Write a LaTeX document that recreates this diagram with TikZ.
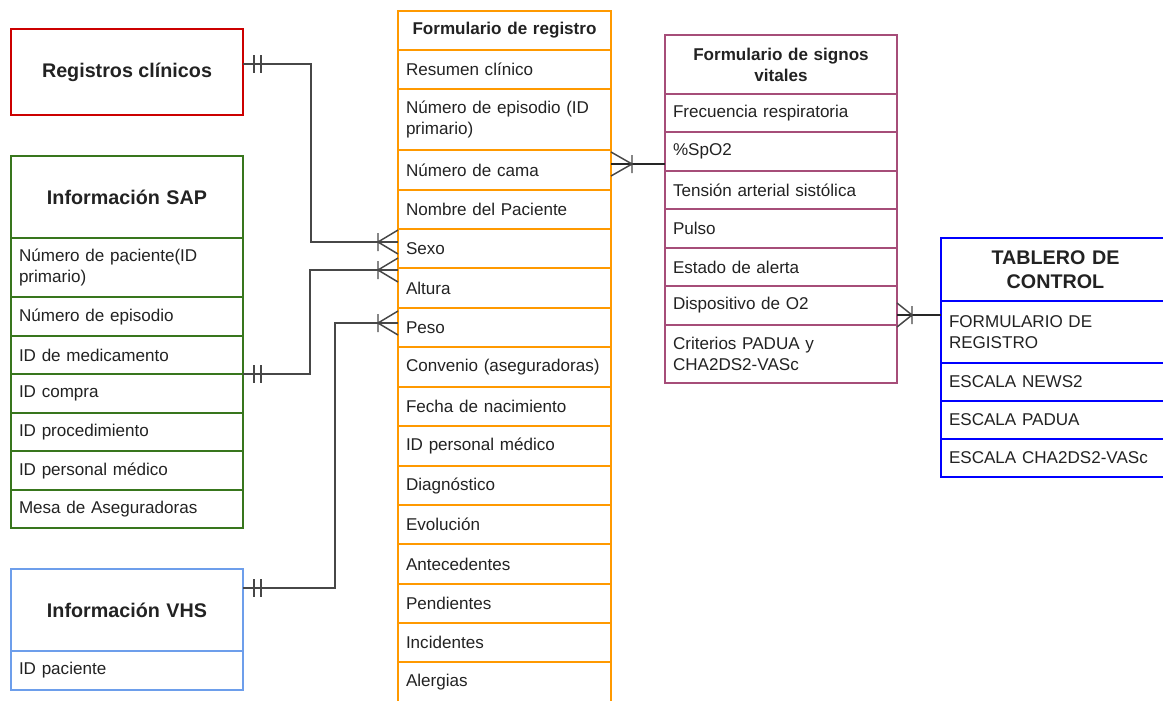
\documentclass[tikz,border=0pt]{standalone}
\usepackage{fontspec}
\setmainfont{Liberation Sans}
\definecolor{cred}{HTML}{CC0000}
\definecolor{cgreen}{HTML}{38761D}
\definecolor{clblue}{HTML}{6D9EEB}
\definecolor{corange}{HTML}{FF9900}
\definecolor{cpurple}{HTML}{A64D79}
\definecolor{cblue}{HTML}{0000FF}
\definecolor{ctext}{HTML}{222222}
\begin{document}
\begin{tikzpicture}[x=0.75pt,y=-0.75pt,
  base/.style={anchor=north west, line width=1.7pt, outer sep=0pt, inner xsep=6pt, inner ysep=0pt, text=ctext, font=\fontsize{12.8}{15.75}\selectfont},
  reg/.style={base, draw=corange, minimum width=159.75pt, text width=147.75pt, align=left},
  regh/.style={reg, align=center, font=\fontsize{12.8}{15.75}\selectfont\bfseries},
  sap/.style={base, draw=cgreen, minimum width=174pt, text width=162pt, align=left},
  vhs/.style={base, draw=clblue, minimum width=174pt, text width=162pt, align=left},
  sig/.style={base, draw=cpurple, minimum width=174pt, text width=162pt, align=left},
  sigh/.style={sig, align=center, font=\fontsize{12.8}{15.75}\selectfont\bfseries},
  tab/.style={base, draw=cblue, minimum width=171.75pt, text width=159.75pt, align=left},
  bighead/.style={align=center, font=\fontsize{14.8}{18}\selectfont\bfseries},
  connL/.style={draw=black!72, line width=1.3pt},
  connD/.style={draw=black!85, line width=1.3pt},
  manyfoot/.pic={\draw[line width=1.1pt, draw=black!72] (20,-12) -- (0,0) -- (20,12) (0,-9) -- (0,9);},
  onebars/.pic={\draw[line width=1.1pt, draw=black!72] (11,-9) -- (11,9) (18,-9) -- (18,9);}
]
\path[use as bounding box, clip] (0,0) rectangle (1163,700);

% Registros clinicos
\node[base, draw=cred, minimum width=174pt, minimum height=64.5pt, bighead] (rc) at (11,29) {Registros clínicos};

% Informacion SAP
\node[sap, minimum height=61.5pt, bighead] (sh) at (11,156) {Información SAP};
\node[sap, minimum height=44.25pt] (s1) at (11,238) {Número de paciente(ID\\primario)};
\node[sap, minimum height=29.25pt] (s2) at (11,297) {Número de episodio};
\node[sap, minimum height=28.5pt] (s3) at (11,336) {ID de medicamento};
\node[sap, minimum height=29.25pt] (s4) at (11,374) {ID compra};
\node[sap, minimum height=28.5pt] (s5) at (11,413) {ID procedimiento};
\node[sap, minimum height=29.25pt] (s6) at (11,451) {ID personal médico};
\node[sap, minimum height=28.5pt] (s7) at (11,490) {Mesa de Aseguradoras};

% Informacion VHS
\node[vhs, minimum height=61.5pt, bighead] (vh) at (11,569) {Información VHS};
\node[vhs, minimum height=29.25pt] (v1) at (11,651) {ID paciente};

% Formulario de registro
\node[regh, minimum height=29.25pt] (rh) at (398,11) {Formulario de registro};
\node[reg, minimum height=29.25pt] (r1) at (398,50) {Resumen clínico};
\node[reg, minimum height=45.75pt] (r2) at (398,89) {Número de episodio (ID\\primario)};
\node[reg, minimum height=30pt] (cama) at (398,150) {Número de cama};
\node[reg, minimum height=29.25pt] (r4) at (398,190) {Nombre del Paciente};
\node[reg, minimum height=29.25pt] (sexo) at (398,229) {Sexo};
\node[reg, minimum height=30pt] (altura) at (398,268) {Altura};
\node[reg, minimum height=29.25pt] (peso) at (398,308) {Peso};
\node[reg, minimum height=30pt] (r8) at (398,347) {Convenio (aseguradoras)};
\node[reg, minimum height=29.25pt] (r9) at (398,387) {Fecha de nacimiento};
\node[reg, minimum height=30pt] (r10) at (398,426) {ID personal médico};
\node[reg, minimum height=29.25pt] (r11) at (398,466) {Diagnóstico};
\node[reg, minimum height=29.25pt] (r12) at (398,505) {Evolución};
\node[reg, minimum height=30pt] (r13) at (398,544) {Antecedentes};
\node[reg, minimum height=29.25pt] (r14) at (398,584) {Pendientes};
\node[reg, minimum height=29.25pt] (r15) at (398,623) {Incidentes};
\node[reg, minimum height=30pt] (r16) at (398,662) {Alergias};

% Formulario de signos vitales
\node[sigh, minimum height=44.25pt] (gh) at (665,35) {Formulario de signos\\vitales};
\node[sig, minimum height=28.5pt] (g1) at (665,94) {Frecuencia respiratoria};
\node[sig, minimum height=29.25pt] (spo) at (665,132) {\%SpO2};
\node[sig, minimum height=28.5pt] (g3) at (665,171) {Tensión arterial sistólica};
\node[sig, minimum height=29.25pt] (g4) at (665,209) {Pulso};
\node[sig, minimum height=28.5pt] (g5) at (665,248) {Estado de alerta};
\node[sig, minimum height=29.25pt] (disp) at (665,286) {Dispositivo de O2};
\node[sig, minimum height=43.5pt] (g7) at (665,325) {Criterios PADUA y\\CHA2DS2-VASc};

% Tablero de control
\node[tab, minimum height=47.25pt, bighead] (th) at (941,238) {TABLERO DE\\CONTROL};
\node[tab, minimum height=46.5pt] (tform) at (941,301) {FORMULARIO DE\\REGISTRO};
\node[tab, minimum height=28.5pt] (t2) at (941,363) {ESCALA NEWS2};
\node[tab, minimum height=28.5pt] (t3) at (941,401) {ESCALA PADUA};
\node[tab, minimum height=28.5pt] (t4) at (941,439) {ESCALA CHA2DS2-VASc};

% Connectors
\draw[connL] (rc.east |- 0,64) -| (311,242) -- (sexo.west |- 0,242);
\pic at (rc.east |- 0,64) {onebars};
\pic at (378,242) {manyfoot};

\draw[connL] (s3.south east) -| (310,270) -- (altura.west |- 0,270);
\pic at (s3.south east) {onebars};
\pic at (378,270) {manyfoot};

\draw[connL] (vh.east |- 0,588) -| (335,323) -- (peso.west |- 0,323);
\pic at (vh.east |- 0,588) {onebars};
\pic at (378,323) {manyfoot};

\draw[connD] (cama.east |- 0,164) -- (spo.west |- 0,164);
\pic[xscale=-1.05] at (632,164) {manyfoot};

\draw[connD] (disp.east |- 0,315) -- (tform.west |- 0,315);
\pic[xscale=-0.75] at (912,315) {manyfoot};
\end{tikzpicture}
\end{document}
